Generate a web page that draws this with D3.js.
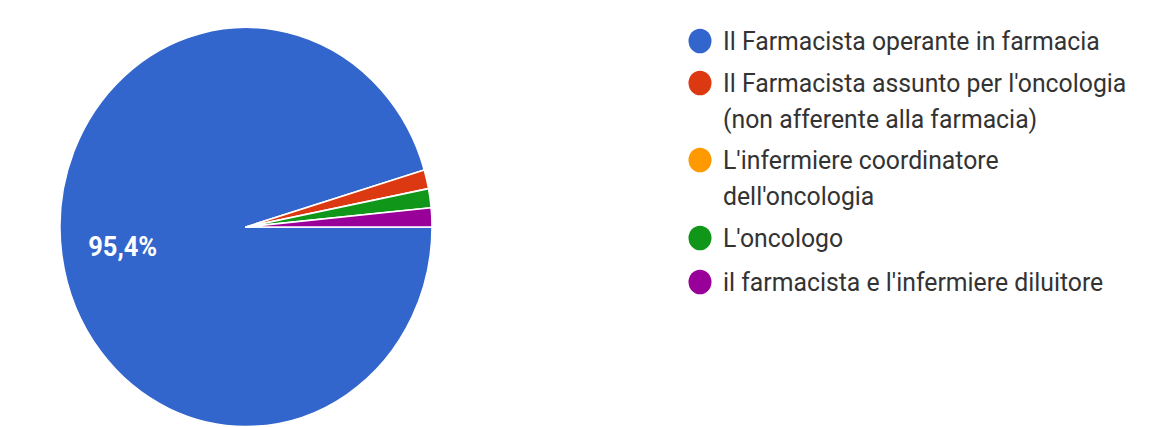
<!DOCTYPE html>
<html>
<head>
<meta charset="utf-8">
<script src="https://cdn.jsdelivr.net/npm/d3@7"></script>
<style>
  html, body { margin: 0; padding: 0; background: #fff; }
  svg { display: block; }
</style>
</head>
<body>
<svg id="chart" width="1161" height="427"></svg>
<script>
// Answer options (legend lines are split with \n)
const categories = [
  "Il Farmacista operante in farmacia",
  "Il Farmacista assunto per l'oncologia\n(non afferente alla farmacia)",
  "L'infermiere coordinatore\ndell'oncologia",
  "L'oncologo",
  "il farmacista e l'infermiere diluitore"
];
// Number of responses per option
const counts = [62, 1, 0, 1, 1];
const colors = ["#3366cc", "#dc3912", "#ff9900", "#109618", "#990099"];

const W = 1161, H = 427;
const svg = d3.select("#chart");
// The whole drawing is slightly taller than wide
const sy = 1.073;
const root = svg.append("g").attr("transform", `scale(1,${sy})`);

const cx = 246, cy = 227 / sy, r = 186;
const total = d3.sum(counts);

const pie = d3.pie()
  .sort(null)
  .value(d => d)
  .startAngle(Math.PI / 2)
  .endAngle(Math.PI / 2 + 2 * Math.PI);
const arcs = pie(counts);
const arc = d3.arc().innerRadius(0).outerRadius(r);

const gPie = root.append("g").attr("transform", `translate(${cx},${cy})`);
gPie.selectAll("path")
  .data(arcs.filter(d => d.data > 0))
  .join("path")
  .attr("d", arc)
  .attr("fill", (d) => colors[d.index])
  .attr("stroke", "#fff")
  .attr("stroke-width", 1.5)
  .attr("stroke-linejoin", "round");

// Percentage labels on slices big enough to hold them
const labelArc = d3.arc().innerRadius(r * 0.67).outerRadius(r * 0.67);
const fmt = v => (v * 100).toFixed(1).replace(".", ",") + "%";
gPie.selectAll("text.pct")
  .data(arcs.filter(d => d.data / total > 0.05))
  .join("text")
  .attr("class", "pct")
  .attr("transform", d => `translate(${labelArc.centroid(d)})`)
  .attr("text-anchor", "middle")
  .attr("dy", "0.36em")
  .attr("fill", "#fff")
  .style("font-family", "Roboto, Arial, sans-serif")
  .style("font-size", "25.5px")
  .style("font-weight", "bold")
  .text(d => fmt(d.data / total));

// Legend
const legendX = 700, textX = 723;
const rowTops = [41, 83, 160, 238, 282];
const lineH = 36.5;
const gLeg = root.append("g");
categories.forEach((c, i) => {
  const y0 = rowTops[i] / sy;
  gLeg.append("circle")
    .attr("cx", legendX)
    .attr("cy", y0)
    .attr("r", 11.5)
    .attr("fill", colors[i]);
  const t = gLeg.append("text")
    .attr("x", textX)
    .attr("y", y0)
    .attr("fill", "#333")
    .style("font-family", "Roboto, Arial, sans-serif")
    .style("font-size", "24.8px");
  c.split("\n").forEach((line, j) => {
    t.append("tspan")
      .attr("x", textX)
      .attr("y", y0 + j * lineH / sy)
      .attr("dy", "0.33em")
      .text(line);
  });
});
</script>
</body>
</html>
